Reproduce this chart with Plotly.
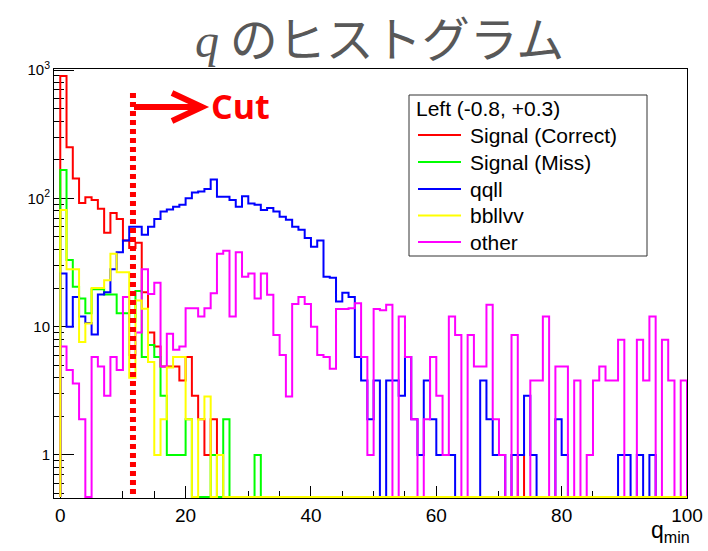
import numpy as np
import plotly.graph_objects as go

# ---------------- data (q_min histogram, 100 bins of width 1 from 0 to 100) ----------------
bin_edges = np.arange(0, 101)

signal_correct = [900, 250, 143, 92, 102, 97, 83, 54, 77, 69,
                  47, 41, 45, 18.5, 9, 7, 4.9, 4.9, 4.9, 3.8,
                  5.8, 2.9, 1.9, 1, 1.9, 0, 0, 0, 0, 0,
                  0, 0, 0, 0, 0, 0, 0, 0, 0, 0,
                  0, 0, 0, 0, 0, 0, 0, 0, 0, 0,
                  0, 0, 0, 0, 0, 0, 0, 0, 0, 0,
                  0, 0, 0, 0, 0, 0, 0, 0, 0, 0,
                  0, 0, 0, 1, 0, 0, 0, 0, 0, 0,
                  0, 0, 0, 0, 0, 0, 0, 0, 0, 0,
                  0, 0, 0, 0, 0, 0, 0, 0, 0, 0]

signal_miss = [166, 33, 20.5, 16.6, 12.7, 19.6, 19.6, 17.8, 17.8, 12.7,
               12.7, 11, 19, 5.8, 7.2, 5.8, 2.9, 1, 1, 1,
               1.9, 0, 0, 0, 1, 0, 1.9, 0, 0, 0,
               0, 1, 0, 0, 0, 0, 0, 0, 0, 0,
               0, 0, 0, 0, 0, 0, 0, 0, 0, 0,
               0, 0, 0, 0, 0, 0, 0, 0, 0, 0,
               0, 0, 0, 0, 0, 0, 0, 0, 0, 0,
               0, 0, 0, 0, 0, 0, 0, 0, 0, 0,
               0, 0, 0, 0, 0, 0, 0, 0, 0, 0,
               0, 0, 0, 0, 0, 0, 0, 0, 0, 0]

qqll = [26, 10, 17, 12, 10.7, 8.7, 17.8, 18.5, 28, 38,
        47, 60, 60, 52, 60, 69, 79, 82, 86, 89,
        100, 111, 113, 118, 140, 103, 103, 97, 86, 104,
        91, 89, 81, 84, 79, 72, 68, 60, 57, 49,
        42, 47, 24.5, 24, 15.7, 18.4, 17, 5.8, 3.8, 1.9,
        3.8, 0, 3.8, 3.8, 2.9, 5.8, 1.9, 1, 3.8, 1.9,
        1, 1, 1, 0, 0, 0, 0, 3.8, 1.9, 1,
        1, 0, 1, 1, 2.9, 1, 0, 0, 0, 1.9,
        1, 0, 0, 0, 0, 0, 0, 0, 0, 1,
        1, 0, 1, 0, 1, 0, 0, 0, 0, 0]

bbllvv = [81, 28, 28, 7.6, 10.6, 20, 20, 23, 37, 26.5,
          26.5, 4, 16, 13.8, 5.3, 1, 1.9, 4.8, 5.8, 5.8,
          1.9, 0, 1.9, 2.85, 0, 1, 0, 0, 0, 0,
          0, 0, 0, 0, 0, 0, 0, 0, 0, 0,
          0, 0, 0, 0, 0, 0, 0, 0, 0, 0,
          0, 0, 0, 0, 0, 0, 0, 0, 0, 0,
          0, 0, 0, 0, 0, 0, 0, 0, 0, 0,
          0, 0, 0, 0, 0, 0, 0, 0, 0, 0,
          0, 0, 0, 0, 0, 0, 0, 0, 0, 0,
          0, 0, 0, 0, 0, 0, 0, 0, 0, 0]

other = [7, 4.6, 3.6, 1.9, 0, 5.8, 4.9, 2.9, 5.8, 4.6,
         17, 6, 9, 28, 18, 22, 4.9, 8.8, 6.6, 7,
         13.9, 13.9, 12, 13.9, 18.2, 37, 39, 12, 38, 24.5,
         26, 16.6, 26, 17.7, 8.6, 6, 2.85, 15, 17, 15,
         10, 6, 5.8, 4.7, 13.7, 13.7, 13.9, 15.2, 5.8, 1,
         13.7, 13.4, 14.8, 0, 12, 5.8, 1.9, 0, 1.9, 5.8,
         2.9, 1, 12, 8.6, 0, 8.6, 4.9, 4.9, 14.8, 1.9,
         1, 0, 8.6, 0, 0, 3.8, 3.8, 12, 0, 4.9,
         4.9, 0, 3.8, 0, 1, 3.8, 4.9, 3.8, 3.8, 7.9,
         0, 0, 7.9, 3.8, 12, 0, 7.9, 3.8, 0, 3.8]

series_names = ["Signal (Correct)", "Signal (Miss)", "qqll", "bbllvv", "other"]
series_values = [signal_correct, signal_miss, qqll, bbllvv, other]
series_colors = ["#ff0000", "#00ff00", "#0000ff", "#ffff00", "#ff00ff"]
draw_order = [0, 1, 2, 4, 3]   # yellow drawn last (on top), legend keeps original order

title_text = "<span style='font-family:Liberation Serif'><i>q</i></span> のヒストグラム"
legend_title = "Left (-0.8, +0.3)"
cut_value = 11.6
x_tick_vals = [0, 20, 40, 60, 80, 100]
y_tick_vals = [1, 10, 100, 1000]
y_tick_text = ["1", "10", "10<sup>2</sup>", "10<sup>3</sup>"]

# ---------------- geometry ----------------
W, H = 708, 551
ML, MR, MT, MB = 54, 21, 69, 53
PW, PH = W - ML - MR, H - MT - MB
ylog_min, ylog_max = np.log10(0.462), 3.008
x_min, x_max = -1, 100
floor_val = 10 ** (ylog_min + 1.0 / (PH / (ylog_max - ylog_min)))   # empty bins sit on frame bottom


def px2paper_x(px):
    return (px - ML) / PW


def px2paper_y(py):
    return (H - MB - py) / PH


fig = go.Figure()
for idx in draw_order:
    vals = [floor_val if v == 0 else v for v in series_values[idx]]
    xs = [bin_edges[0]] + list(bin_edges[:-1]) + [bin_edges[-1], bin_edges[-1]]
    ys = [floor_val] + vals + [vals[-1], floor_val]
    fig.add_trace(go.Scatter(
        x=xs, y=ys, mode="lines", name=series_names[idx],
        line=dict(color=series_colors[idx], width=2, shape="hv"),
        showlegend=False, hoverinfo="skip"))

minor_y = [v * d for d in (0.1, 1, 10, 100) for v in range(2, 10)]
minor_y = [v for v in minor_y if 0.46 < v < 1000]

fig.update_layout(
    width=W, height=H,
    margin=dict(l=ML, r=MR, t=MT, b=MB, autoexpand=False),
    paper_bgcolor="white", plot_bgcolor="white",
    xaxis=dict(range=[x_min, x_max], tickmode="array", tickvals=x_tick_vals,
               ticks="inside", ticklen=12, tickwidth=1, tickcolor="black",
               showline=True, linecolor="black", linewidth=1, mirror=True,
               showgrid=False, zeroline=False, layer="below traces",
               tickfont=dict(family="Liberation Sans", size=19, color="black"),
               minor=dict(dtick=5, tick0=0, ticks="inside", ticklen=7,
                          tickcolor="black", showgrid=False)),
    yaxis=dict(type="log", range=[ylog_min, ylog_max], tickmode="array",
               tickvals=y_tick_vals, ticktext=y_tick_text,
               ticks="inside", ticklen=20, tickwidth=1, tickcolor="black",
               showline=True, linecolor="black", linewidth=1, mirror=True,
               showgrid=False, zeroline=False, layer="below traces",
               tickfont=dict(family="Liberation Sans", size=15, color="black"),
               minor=dict(tickmode="array", tickvals=minor_y, ticks="inside",
                          ticklen=10, tickcolor="black", showgrid=False)),
    showlegend=False,
)

# ---------------- title ----------------
fig.add_annotation(text=title_text, xref="paper", yref="paper",
                   x=px2paper_x(380), y=px2paper_y(36), xanchor="center", yanchor="middle",
                   showarrow=False,
                   font=dict(family="Noto Sans CJK JP", size=48, color="#585858"))

# ---------------- legend box (ROOT TLegend style) ----------------
fig.add_shape(type="rect", xref="paper", yref="paper",
              x0=px2paper_x(409), x1=px2paper_x(647), y0=px2paper_y(256), y1=px2paper_y(95),
              line=dict(color="#333333", width=1), fillcolor="white", layer="above")
fig.add_annotation(text=legend_title, xref="paper", yref="paper",
                   x=px2paper_x(414), y=px2paper_y(108), xanchor="left", yanchor="middle",
                   showarrow=False, font=dict(family="Liberation Sans", size=21, color="black"))
legend_rows_py = [135, 162, 189, 215.5, 242]
for k in range(len(series_names)):
    py = legend_rows_py[k]
    fig.add_shape(type="line", xref="paper", yref="paper",
                  x0=px2paper_x(418), x1=px2paper_x(461), y0=px2paper_y(py), y1=px2paper_y(py),
                  line=dict(color=series_colors[k], width=2), layer="above")
    fig.add_annotation(text=series_names[k], xref="paper", yref="paper",
                       x=px2paper_x(468), y=px2paper_y(py), xanchor="left", yanchor="middle",
                       showarrow=False,
                       font=dict(family="Liberation Sans", size=21, color="black"))

# ---------------- cut line and arrow ----------------
fig.add_shape(type="line", xref="x", yref="paper",
              x0=cut_value, x1=cut_value, y0=px2paper_y(494), y1=px2paper_y(93),
              line=dict(color="#ff0000", width=6, dash="5px,4px"), layer="above")
fig.add_shape(type="line", xref="paper", yref="paper",
              x0=px2paper_x(134), x1=px2paper_x(198), y0=px2paper_y(107), y1=px2paper_y(107),
              line=dict(color="#ff0000", width=6), layer="above")
fig.add_shape(type="path", xref="paper", yref="paper",
              path=(f"M {px2paper_x(172)},{px2paper_y(93)} L {px2paper_x(202)},{px2paper_y(107)} "
                    f"L {px2paper_x(172)},{px2paper_y(121)}"),
              line=dict(color="#ff0000", width=6), layer="above")
fig.add_annotation(text="<b>Cut</b>", xref="paper", yref="paper",
                   x=px2paper_x(209), y=px2paper_y(106), xanchor="left", yanchor="middle",
                   showarrow=False, font=dict(family="Open Sans", size=34, color="#ff0000"))

# x-axis title, right-aligned below the axis (ROOT style)
fig.add_annotation(text="q<sub>min</sub>", xref="paper", yref="paper",
                   x=px2paper_x(692), y=px2paper_y(531), xanchor="right", yanchor="middle",
                   showarrow=False, font=dict(family="Liberation Sans", size=23, color="black"))

fig.write_html("out.html")
